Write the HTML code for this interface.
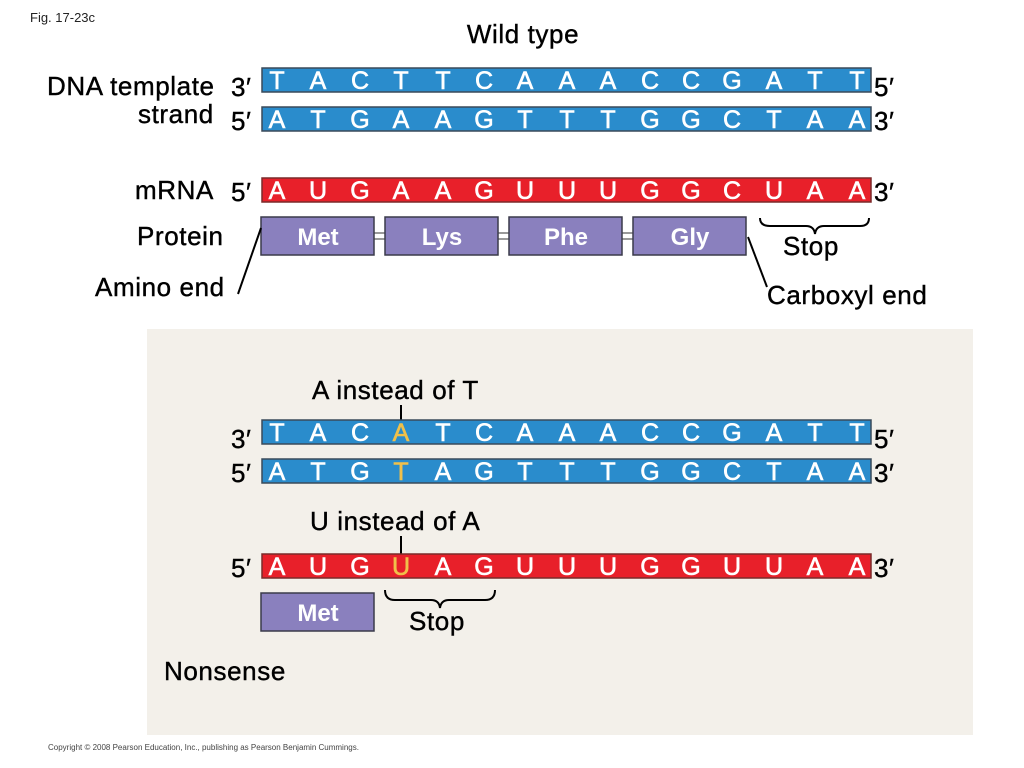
<!DOCTYPE html>
<html><head><meta charset="utf-8"><style>
html,body{margin:0;padding:0;background:#fff;}
svg{display:block;font-family:"Liberation Sans",Arial,sans-serif;}
.l{fill:#fff;font-size:25px;text-anchor:middle;stroke:#fff;stroke-width:0.6;}
.l .y,.y{fill:#f0c04a;stroke:#f0c04a;}
.k{fill:#000;font-size:26px;letter-spacing:0.6px;stroke:#000;stroke-width:0.4;}
.p{fill:#fff;font-size:24px;font-weight:bold;text-anchor:middle;}
.b{fill:#2a8ccc;stroke:#3a4a5a;stroke-width:1.5;}
.r{fill:#e8202a;stroke:#7a2a2a;stroke-width:1.5;}
.m{fill:#8a80be;stroke:#3a3a4a;stroke-width:1.5;}
</style></head><body>
<svg width="1024" height="768" viewBox="0 0 1024 768">
<text x="30" y="22" font-size="13" fill="#222">Fig. 17-23c</text>
<text x="523" y="43" class="k" text-anchor="middle">Wild type</text>
<text x="47" y="95" class="k">DNA template</text>
<text x="138" y="123" class="k">strand</text>
<text x="135" y="199" class="k">mRNA</text>
<text x="137" y="245" class="k">Protein</text>
<text x="95" y="296" class="k">Amino end</text>
<text x="767" y="304" class="k">Carboxyl end</text>
<text x="783" y="255" class="k">Stop</text>

<rect x="262" y="68" width="609" height="24" class="b"/>
<rect x="262" y="107" width="609" height="24" class="b"/>
<rect x="262" y="178" width="609" height="24" class="r"/>
<g class="k"><text x="231" y="96">3′</text><text x="231" y="130">5′</text><text x="231" y="201">5′</text>
<text x="874" y="96">5′</text><text x="874" y="130">3′</text><text x="874" y="201">3′</text></g>
<g class="l">
<text x="277" y="89">T</text><text x="318" y="89">A</text><text x="360" y="89">C</text><text x="401" y="89">T</text><text x="443" y="89">T</text><text x="484" y="89">C</text><text x="525" y="89">A</text><text x="567" y="89">A</text><text x="608" y="89">A</text><text x="650" y="89">C</text><text x="691" y="89">C</text><text x="732" y="89">G</text><text x="774" y="89">A</text><text x="815" y="89">T</text><text x="857" y="89">T</text>
<text x="277" y="128">A</text><text x="318" y="128">T</text><text x="360" y="128">G</text><text x="401" y="128">A</text><text x="443" y="128">A</text><text x="484" y="128">G</text><text x="525" y="128">T</text><text x="567" y="128">T</text><text x="608" y="128">T</text><text x="650" y="128">G</text><text x="691" y="128">G</text><text x="732" y="128">C</text><text x="774" y="128">T</text><text x="815" y="128">A</text><text x="857" y="128">A</text>
<text x="277" y="199">A</text><text x="318" y="199">U</text><text x="360" y="199">G</text><text x="401" y="199">A</text><text x="443" y="199">A</text><text x="484" y="199">G</text><text x="525" y="199">U</text><text x="567" y="199">U</text><text x="608" y="199">U</text><text x="650" y="199">G</text><text x="691" y="199">G</text><text x="732" y="199">C</text><text x="774" y="199">U</text><text x="815" y="199">A</text><text x="857" y="199">A</text>
</g>
<g stroke="#555" stroke-width="1.2" fill="none">
<line x1="374" y1="233" x2="385" y2="233"/><line x1="374" y1="239" x2="385" y2="239"/>
<line x1="498" y1="233" x2="509" y2="233"/><line x1="498" y1="239" x2="509" y2="239"/>
<line x1="622" y1="233" x2="633" y2="233"/><line x1="622" y1="239" x2="633" y2="239"/>
</g>
<rect x="261" y="217" width="113" height="38" class="m"/>
<rect x="385" y="217" width="113" height="38" class="m"/>
<rect x="509" y="217" width="113" height="38" class="m"/>
<rect x="633" y="217" width="113" height="38" class="m"/>
<text x="318" y="245" class="p">Met</text><text x="442" y="245" class="p">Lys</text><text x="566" y="245" class="p">Phe</text><text x="690" y="245" class="p">Gly</text>
<g stroke="#000" stroke-width="2" fill="none">
<line x1="261" y1="228" x2="238" y2="294"/>
<line x1="748" y1="237" x2="767" y2="287"/>
<path d="M760 218 Q760 226 770 226 L806 226 Q814 226 815 234 Q816 226 824 226 L860 226 Q869 226 869 218"/>
</g>

<rect x="147" y="329" width="826" height="406" fill="#f3f0ea"/>
<text x="312" y="399" class="k">A instead of T</text>
<text x="310" y="530" class="k">U instead of A</text>
<text x="164" y="680" class="k">Nonsense</text>
<line x1="401" y1="405" x2="401" y2="421" stroke="#000" stroke-width="2"/>
<line x1="401" y1="536" x2="401" y2="555" stroke="#000" stroke-width="2"/>
<rect x="262" y="420" width="609" height="24" class="b"/>
<rect x="262" y="459" width="609" height="24" class="b"/>
<rect x="262" y="554" width="609" height="24" class="r"/>
<g class="k"><text x="231" y="448">3′</text><text x="231" y="482">5′</text><text x="231" y="577">5′</text>
<text x="874" y="448">5′</text><text x="874" y="482">3′</text><text x="874" y="577">3′</text></g>
<g class="l">
<text x="277" y="441">T</text><text x="318" y="441">A</text><text x="360" y="441">C</text><text x="401" y="441" class="y">A</text><text x="443" y="441">T</text><text x="484" y="441">C</text><text x="525" y="441">A</text><text x="567" y="441">A</text><text x="608" y="441">A</text><text x="650" y="441">C</text><text x="691" y="441">C</text><text x="732" y="441">G</text><text x="774" y="441">A</text><text x="815" y="441">T</text><text x="857" y="441">T</text>
<text x="277" y="480">A</text><text x="318" y="480">T</text><text x="360" y="480">G</text><text x="401" y="480" class="y">T</text><text x="443" y="480">A</text><text x="484" y="480">G</text><text x="525" y="480">T</text><text x="567" y="480">T</text><text x="608" y="480">T</text><text x="650" y="480">G</text><text x="691" y="480">G</text><text x="732" y="480">C</text><text x="774" y="480">T</text><text x="815" y="480">A</text><text x="857" y="480">A</text>
<text x="277" y="575">A</text><text x="318" y="575">U</text><text x="360" y="575">G</text><text x="401" y="575" class="y">U</text><text x="443" y="575">A</text><text x="484" y="575">G</text><text x="525" y="575">U</text><text x="567" y="575">U</text><text x="608" y="575">U</text><text x="650" y="575">G</text><text x="691" y="575">G</text><text x="732" y="575">U</text><text x="774" y="575">U</text><text x="815" y="575">A</text><text x="857" y="575">A</text>
</g>
<rect x="261" y="593" width="113" height="38" class="m"/>
<text x="318" y="621" class="p">Met</text>
<path d="M385 590 Q385 600 395 600 L431 600 Q439 600 440 608 Q441 600 449 600 L485 600 Q495 600 495 590" stroke="#000" stroke-width="2" fill="none"/>
<text x="409" y="630" class="k">Stop</text>
<text x="48" y="750" font-size="8" fill="#444">Copyright © 2008 Pearson Education, Inc., publishing as Pearson Benjamin Cummings.</text>
</svg>
</body></html>
